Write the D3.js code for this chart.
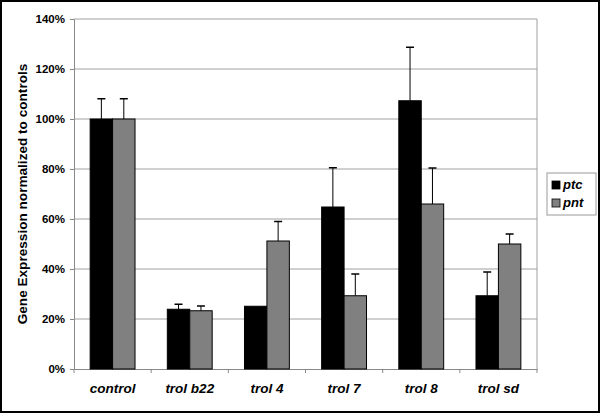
<!DOCTYPE html>
<html>
<head>
<meta charset="utf-8">
<script src="https://cdn.jsdelivr.net/npm/d3@7"></script>
<style>
  body { margin: 0; background: #fff; }
  svg { display: block; font-family: Arial, "Liberation Sans", sans-serif; }
</style>
</head>
<body>
<svg id="chart" width="600" height="413"></svg>
<script>
const categories = ['control', 'trol b22', 'trol 4', 'trol 7', 'trol 8', 'trol sd'];
const seriesNames = ['ptc', 'pnt'];
const ptcValues = [100, 23.9, 25.1, 64.8, 107.3, 29.3];
const ptcErrTop = [108.1, 25.9, 25.1, 80.5, 128.7, 38.8];
const pntValues = [100, 23.3, 51.2, 29.3, 66.0, 50.0];
const pntErrTop = [108.1, 25.2, 59.0, 38.0, 80.4, 54.0];
const yTicks = [0, 20, 40, 60, 80, 100, 120, 140];

const colors = {ptc: '#000000', pnt: '#808080'};

const svg = d3.select('#chart');
const W = 600, H = 413;
const plot = {left: 74, right: 537, top: 19, bottom: 369};

// outer frame
svg.append('rect')
    .attr('x', 1).attr('y', 1).attr('width', W - 2).attr('height', H - 2)
    .attr('fill', '#fff').attr('stroke', '#000').attr('stroke-width', 2);

const xScale = d3.scaleBand()
    .domain(categories)
    .range([plot.left, plot.right]);

const xInner = d3.scaleBand()
    .domain(seriesNames)
    .range([0, xScale.bandwidth()])
    .paddingOuter(0.72);

const yScale = d3.scaleLinear()
    .domain([0, 140])
    .range([plot.bottom, plot.top]);

// gridlines
svg.append('g')
    .selectAll('line')
    .data(yTicks.filter(d => d > 0))
    .enter().append('line')
    .attr('x1', plot.left).attr('x2', plot.right)
    .attr('y1', d => yScale(d)).attr('y2', d => yScale(d))
    .attr('stroke', '#a0a0a0').attr('stroke-width', 1);

// plot frame right side
svg.append('line')
    .attr('x1', plot.right).attr('x2', plot.right)
    .attr('y1', plot.top).attr('y2', plot.bottom)
    .attr('stroke', '#a0a0a0');

// y axis
const yAxis = svg.append('g')
    .attr('transform', `translate(${plot.left},0)`)
    .call(d3.axisLeft(yScale).tickValues(yTicks).tickFormat(d => d + '%').tickSize(4).tickPadding(5));
yAxis.select('.domain').attr('stroke', '#888');
yAxis.selectAll('.tick line').attr('stroke', '#888');
yAxis.selectAll('text')
    .attr('font-size', 11.5).attr('font-weight', 'bold').attr('fill', '#000');

// x axis
const xAxis = svg.append('g')
    .attr('transform', `translate(0,${plot.bottom})`)
    .call(d3.axisBottom(xScale).tickSize(0).tickPadding(14));
xAxis.select('.domain').attr('stroke', '#888');
xAxis.selectAll('text')
    .attr('font-size', 13.5).attr('font-weight', 'bold').attr('font-style', 'italic').attr('fill', '#000');
// category boundary ticks
svg.append('g')
    .selectAll('line')
    .data(categories.concat(['end']))
    .enter().append('line')
    .attr('x1', (d, i) => plot.left + i * xScale.step())
    .attr('x2', (d, i) => plot.left + i * xScale.step())
    .attr('y1', plot.bottom).attr('y2', plot.bottom + 4)
    .attr('stroke', '#888');

const data = categories.map((c, i) => ({
    category: c,
    bars: [
        {key: 'ptc', value: ptcValues[i], err: ptcErrTop[i]},
        {key: 'pnt', value: pntValues[i], err: pntErrTop[i]}
    ]
}));

const groups = svg.append('g')
    .selectAll('g')
    .data(data)
    .enter().append('g')
    .attr('transform', d => `translate(${xScale(d.category)},0)`);

// error bars (upward only)
groups.selectAll('g.err')
    .data(d => d.bars.filter(b => b.err > b.value))
    .enter().append('g')
    .attr('class', 'err')
    .each(function(b) {
        const cx = xInner(b.key) + xInner.bandwidth() / 2;
        const g = d3.select(this);
        g.append('line')
            .attr('x1', cx).attr('x2', cx)
            .attr('y1', yScale(b.value)).attr('y2', yScale(b.err))
            .attr('stroke', '#000').attr('stroke-width', 1);
        g.append('line')
            .attr('x1', cx - 4).attr('x2', cx + 4)
            .attr('y1', yScale(b.err)).attr('y2', yScale(b.err))
            .attr('stroke', '#000').attr('stroke-width', 1.5);
    });

groups.selectAll('rect')
    .data(d => d.bars)
    .enter().append('rect')
    .attr('x', b => xInner(b.key))
    .attr('y', b => yScale(b.value))
    .attr('width', xInner.bandwidth())
    .attr('height', b => plot.bottom - yScale(b.value))
    .attr('fill', b => colors[b.key])
    .attr('stroke', '#000').attr('stroke-width', 1);

// y axis title
svg.append('text')
    .attr('transform', `translate(27,${(plot.top + plot.bottom) / 2}) rotate(-90)`)
    .attr('text-anchor', 'middle')
    .attr('font-size', 13.6).attr('font-weight', 'bold')
    .text('Gene Expression normalized to controls');

// legend
const legend = svg.append('g').attr('transform', 'translate(547,173)');
legend.append('rect')
    .attr('width', 49).attr('height', 42)
    .attr('fill', '#fff').attr('stroke', '#999');
legend.selectAll('g')
    .data(seriesNames)
    .enter().append('g')
    .attr('transform', (d, i) => `translate(5,${8 + i * 18})`)
    .each(function(d) {
        const g = d3.select(this);
        g.append('rect').attr('width', 8).attr('height', 8)
            .attr('fill', colors[d]).attr('stroke', '#000').attr('stroke-width', 0.8);
        g.append('text').attr('x', 11).attr('y', 8)
            .attr('font-size', 13).attr('font-weight', 'bold').attr('font-style', 'italic')
            .text(d);
    });
</script>
</body>
</html>
